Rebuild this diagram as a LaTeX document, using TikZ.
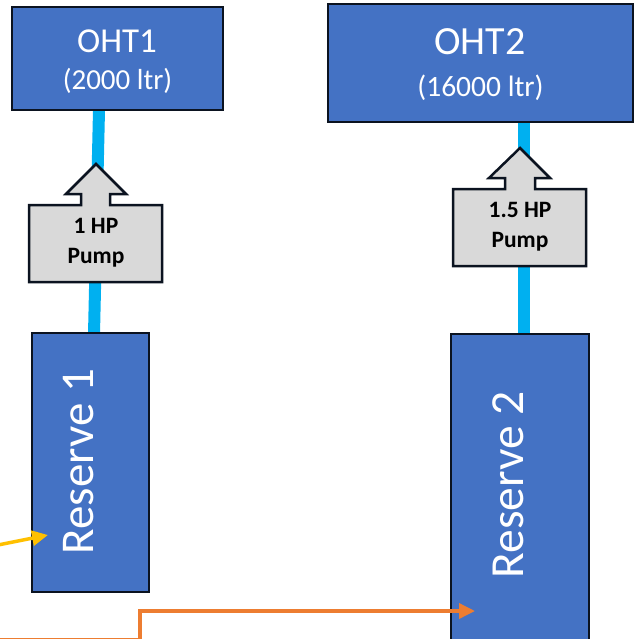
\documentclass[tikz,border=0pt]{standalone}
\usepackage{fontspec}
\setmainfont{Carlito}
\usetikzlibrary{arrows.meta}
\definecolor{tankblue}{HTML}{4472C4}
\definecolor{tankline}{HTML}{0B1320}
\definecolor{pipeblue}{HTML}{00B0F0}
\definecolor{pumpgrey}{HTML}{D9D9D9}
\definecolor{feedorange}{HTML}{ED7D31}
\definecolor{feedyellow}{HTML}{FFC000}
\begin{document}
\begin{tikzpicture}[x=1pt,y=-1pt,
  tank/.style={draw=tankline,line width=2pt,fill=tankblue,inner sep=0pt},
  tanktext/.style={text=white,inner sep=0pt},
  pumpbox/.style={draw=tankline,line width=2.5pt,fill=pumpgrey,line join=miter},
  pumptext/.style={align=center,inner sep=0pt,font=\fontsize{23.5}{30}\selectfont\bfseries},
  pipe/.style={pipeblue,line width=12pt},
  feed/.style={line width=3.5pt,-{Triangle[length=16pt,width=15pt]}}]
\useasboundingbox (0,0) rectangle (637,639);
\clip (0,0) rectangle (637,639);
% pipes behind the pumps
\coordinate (p1top) at (99,110);
\coordinate (p1bot) at (94,334);
\coordinate (p2top) at (524,122);
\coordinate (p2bot) at (524,335);
\draw[pipe] (p1top) -- (p1bot);
\draw[pipe] (p2top) -- (p2bot);
% overhead tanks
\node[tank,minimum width=211pt,minimum height=103pt] (oht1) at (117.5,58.5) {};
\node[tanktext,anchor=base] (oht1name) at (117,53) {\fontsize{35}{35}\selectfont OHT1};
\node[tanktext,anchor=base] (oht1cap) at (117.5,90) {\fontsize{29}{29}\selectfont (2000 ltr)};
\node[tank,minimum width=305pt,minimum height=118pt] (oht2) at (480.5,63) {};
\node[tanktext,anchor=base] (oht2name) at (480,55) {\fontsize{40}{40}\selectfont OHT2};
\node[tanktext,anchor=base] (oht2cap) at (480.5,97) {\fontsize{29.5}{29.5}\selectfont (16000 ltr)};
% pumps
\draw[pumpbox] (29,205) -- (81,205) -- (81,194) -- (66,194) -- (96,164) -- (126,194)
  -- (110,194) -- (110,205) -- (162,205) -- (162,282) -- (29,282) -- cycle;
\node[pumptext] (pump1) at (96,243) {1 HP\\Pump};
\draw[pumpbox] (453,189) -- (505,189) -- (505,178) -- (489,178) -- (520,148) -- (550,178)
  -- (535,178) -- (535,189) -- (586,189) -- (586,266) -- (453,266) -- cycle;
\node[pumptext] (pump2) at (520,227) {1.5 HP\\Pump};
% reserve tanks
\node[tank,minimum width=117pt,minimum height=259pt] (res1) at (90.5,462.5) {};
\node[tanktext,rotate=90] (res1name) at (79,461.5) {\fontsize{47}{47}\selectfont Reserve 1};
\node[tank,minimum width=138pt,minimum height=340pt] (res2) at (520,504) {};
\node[tanktext,rotate=90] (res2name) at (508,485) {\fontsize{47.5}{47.5}\selectfont Reserve 2};
% feeds coming in from the left
\coordinate (yin) at (-2,545);
\coordinate (yend) at (48,535);
\draw[feed,feedyellow] (yin) -- (yend);
\coordinate (oin) at (-2,640);
\coordinate (oend) at (475,611);
\draw[feed,feedorange] (oin) -- (140,640) -- (140,611) -- (oend);
\end{tikzpicture}
\end{document}
